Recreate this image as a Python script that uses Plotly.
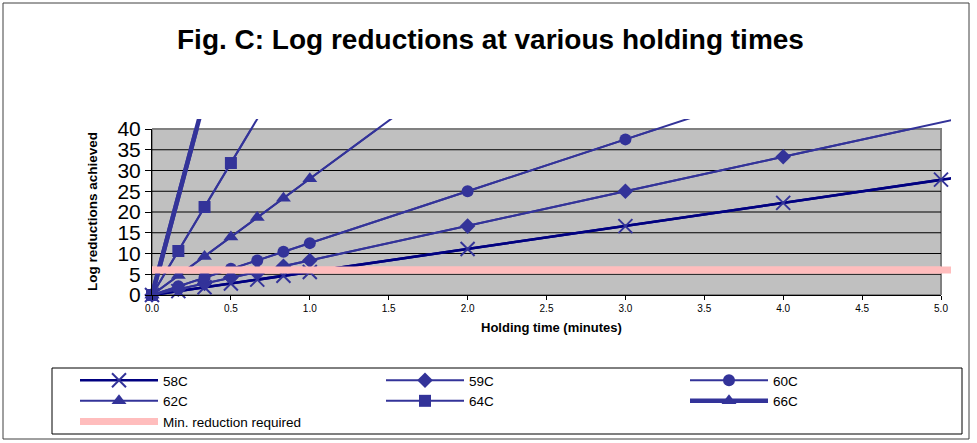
import plotly.graph_objects as go

# ---------------- data ----------------
t_58 = [0, 0.167, 0.333, 0.5, 0.667, 0.833, 1.0, 2.0, 3.0, 4.0, 5.0, 6.0]
lr_58 = [0, 0.93, 1.85, 2.78, 3.7, 4.63, 5.55, 11.1, 16.6, 22.2, 27.8, 33.3]

t_59 = [0, 0.167, 0.333, 0.5, 0.667, 0.833, 1.0, 2.0, 3.0, 4.0, 5.0, 6.0]
lr_59 = [0, 1.4, 2.8, 4.2, 5.6, 6.9, 8.3, 16.6, 25.0, 33.3, 41.6, 49.9]

t_60 = [0, 0.167, 0.333, 0.5, 0.667, 0.833, 1.0, 2.0, 3.0, 4.0]
lr_60 = [0, 2.1, 4.2, 6.3, 8.3, 10.4, 12.5, 25.0, 37.5, 50.0]

t_62 = [0, 0.167, 0.333, 0.5, 0.667, 0.833, 1.0, 2.0]
lr_62 = [0, 4.7, 9.3, 14.0, 18.7, 23.3, 28.0, 56.0]

t_64 = [0, 0.167, 0.333, 0.5, 0.667, 0.833, 1.0]
lr_64 = [0, 10.6, 21.2, 31.8, 42.4, 53.0, 63.6]

t_66 = [0, 0.5, 1.0]
lr_66 = [0, 71.0, 142.0]

t_min = [0, 6.0]
lr_min = [6, 6]

x_ticks = [0.0, 0.5, 1.0, 1.5, 2.0, 2.5, 3.0, 3.5, 4.0, 4.5, 5.0]
y_ticks = [0, 5, 10, 15, 20, 25, 30, 35, 40]

title_text = "Fig. C: Log reductions at various holding times"
x_title = "Holding time (minutes)"
y_title = "Log reductions achieved"

# ---------------- geometry / style ----------------
W, H = 977, 443
ML, MR, MT, MB = 152, 26, 119, 148          # outer (line-clip) area
PW, PH = W - ML - MR, H - MT - MB            # 799 x 176
GW, GH = 789, 166                            # grey plot area (0..5, 0..40)
XMAX, YMAX = x_ticks[-1], y_ticks[-1]

FONT = "Liberation Sans, Arial, sans-serif"
BLUE = "#333399"
NAVY = "#000080"
PINK = "#FFBDBD"


def px(x):
    return (x - ML) / PW


def py(y):
    return (H - MB - y) / PH


series = [
    dict(name="58C", t=t_58, v=lr_58, lc=NAVY, lw=2.5, sym="x-thin", ms=14, legend="legend", rank=1),
    dict(name="59C", t=t_59, v=lr_59, lc=BLUE, lw=2, sym="diamond", ms=12, legend="legend2", rank=1),
    dict(name="60C", t=t_60, v=lr_60, lc=BLUE, lw=2, sym="circle", ms=12, legend="legend3", rank=1),
    dict(name="62C", t=t_62, v=lr_62, lc=BLUE, lw=2, sym="triangle-up", ms=13, legend="legend", rank=2),
    dict(name="64C", t=t_64, v=lr_64, lc=BLUE, lw=2, sym="square", ms=12, legend="legend2", rank=2),
    dict(name="66C", t=t_66, v=lr_66, lc=BLUE, lw=4.5, sym="triangle-up", ms=13, legend="legend3", rank=2),
]

fig = go.Figure()

# minimum reduction band (drawn first, below the series)
fig.add_trace(go.Scatter(x=t_min, y=lr_min, mode="lines", line=dict(color=PINK, width=7),
                         xaxis="x", yaxis="y", showlegend=False, hoverinfo="skip"))

# lines that run slightly past the grey area (Excel-style overhang)
for s in series:
    fig.add_trace(go.Scatter(x=s["t"], y=s["v"], mode="lines",
                             line=dict(color=s["lc"], width=s["lw"]),
                             xaxis="x", yaxis="y", showlegend=False, hoverinfo="skip"))

# markers (hidden outside the grey area) + legend entries
for s in series:
    mk = dict(symbol=s["sym"], size=s["ms"], color=BLUE)
    if s["sym"].startswith("x"):
        mk["line"] = dict(color=BLUE, width=2)
    fig.add_trace(go.Scatter(x=s["t"], y=s["v"], mode="lines+markers", name=s["name"],
                             line=dict(color=s["lc"], width=s["lw"]), marker=mk,
                             cliponaxis=False, xaxis="x2", yaxis="y2",
                             legend=s["legend"], legendrank=s["rank"]))

fig.add_trace(go.Scatter(x=t_min, y=lr_min, mode="lines", name="Min. reduction required",
                         line=dict(color=PINK, width=7), xaxis="x2", yaxis="y2",
                         legend="legend", legendrank=3))

shapes = [
    # chart outer border
    dict(type="rect", xref="paper", yref="paper", x0=px(3), x1=px(969), y0=py(3), y1=py(439),
         line=dict(color="#404040", width=1), fillcolor="rgba(0,0,0,0)", layer="below"),
    # legend box
    dict(type="rect", xref="paper", yref="paper", x0=px(52), x1=px(962), y0=py(368), y1=py(434),
         line=dict(color="black", width=1), fillcolor="white", layer="below"),
    # grey plotting area
    dict(type="rect", xref="x", yref="y", x0=0, x1=XMAX, y0=0, y1=YMAX,
         fillcolor="#C0C0C0", line=dict(color="#808080", width=2), layer="below"),
]
for yv in y_ticks[1:-1]:
    shapes.append(dict(type="line", xref="x", yref="y", x0=0, x1=XMAX, y0=yv, y1=yv,
                       line=dict(color="black", width=1), layer="below"))

annotations = [
    dict(text="<b>%s</b>" % title_text, xref="paper", yref="paper", x=px(490), y=py(40),
         showarrow=False, font=dict(family=FONT, size=28, color="black"),
         xanchor="center", yanchor="middle"),
    dict(text="<b>%s</b>" % x_title, xref="paper", yref="paper", x=px(551), y=py(327),
         showarrow=False, font=dict(family=FONT, size=13, color="black"),
         xanchor="center", yanchor="middle"),
    dict(text="<b>%s</b>" % y_title, xref="paper", yref="paper", x=px(92), y=py(212),
         showarrow=False, textangle=-90, font=dict(family=FONT, size=13.5, color="black"),
         xanchor="center", yanchor="middle"),
]

leg_common = dict(orientation="v", xanchor="left", yanchor="top", bgcolor="rgba(0,0,0,0)",
                  borderwidth=0, itemwidth=78, tracegroupgap=0, traceorder="normal",
                  font=dict(family=FONT, size=13.5, color="black"))

fig.update_layout(
    width=W, height=H,
    margin=dict(l=ML, r=MR, t=MT, b=MB, autoexpand=False),
    paper_bgcolor="white", plot_bgcolor="rgba(0,0,0,0)",
    showlegend=True,
    xaxis=dict(domain=[0, 1], range=[0, XMAX * PW / GW], visible=False, fixedrange=True),
    yaxis=dict(domain=[0, 1], range=[0, YMAX * PH / GH], visible=False, fixedrange=True),
    xaxis2=dict(domain=[0, GW / PW], range=[0, XMAX], anchor="y2", tickvals=x_ticks,
                tickformat=".1f", ticks="outside", ticklen=4, tickcolor="black",
                showline=True, linecolor="black", linewidth=1, showgrid=False, zeroline=False,
                tickfont=dict(family=FONT, size=10, color="black"), fixedrange=True),
    yaxis2=dict(domain=[0, GH / PH], range=[0, YMAX], anchor="x2", tickvals=y_ticks,
                ticks="outside", ticklen=6, tickcolor="black",
                showline=True, linecolor="black", linewidth=1, showgrid=False, zeroline=False,
                tickfont=dict(family=FONT, size=21, color="black"), fixedrange=True),
    shapes=shapes,
    annotations=annotations,
    legend=dict(x=px(75), y=py(365), **leg_common),
    legend2=dict(x=px(381), y=py(365), **leg_common),
    legend3=dict(x=px(685), y=py(365), **leg_common),
)

fig.write_html("out.html", config={"displayModeBar": False},
               post_script="document.body.style.margin='0';")
